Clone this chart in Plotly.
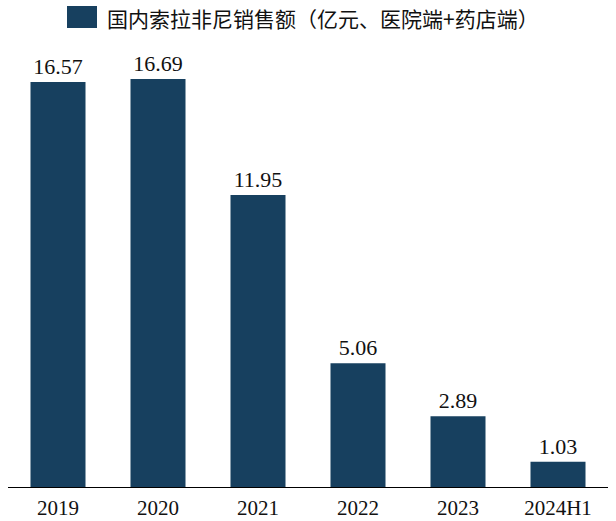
import plotly.graph_objects as go

categories = ["2019", "2020", "2021", "2022", "2023", "2024H1"]
sales = [16.57, 16.69, 11.95, 5.06, 2.89, 1.03]
value_labels = ["16.57", "16.69", "11.95", "5.06", "2.89", "1.03"]
legend_name = "国内索拉非尼销售额（亿元、医院端+药店端）"

bar_color = "#17405F"
serif = "Liberation Serif, Times New Roman, serif"
cjk = "Noto Sans CJK SC, sans-serif"

fig = go.Figure()
fig.add_trace(go.Bar(
    x=categories, y=sales, name=legend_name,
    marker=dict(color=bar_color, line=dict(width=0)),
    text=value_labels, textposition="outside", cliponaxis=False,
    textfont=dict(family=serif, size=22, color="#111111"),
    showlegend=False,
))

fig.update_layout(
    width=616, height=521,
    margin=dict(l=8, r=8, t=47, b=34),
    paper_bgcolor="white", plot_bgcolor="white",
    bargap=0.45,
    xaxis=dict(showline=True, linecolor="black", linewidth=1.2, ticks="",
               ticklabelstandoff=2, automargin=False,
               tickfont=dict(family=serif, size=21, color="#111111"),
               showgrid=False, zeroline=False),
    yaxis=dict(range=[0, 18], visible=False, showgrid=False, zeroline=False,
               automargin=False),
    shapes=[dict(type="rect", xref="paper", yref="paper",
                 x0=(67 - 8) / 600, x1=(97 - 8) / 600,
                 y0=(487 - 28) / 440, y1=(487 - 6) / 440,
                 fillcolor=bar_color, line=dict(width=0))],
    annotations=[dict(text=legend_name, xref="paper", yref="paper",
                      x=(105 - 8) / 600, y=(487 - 18) / 440,
                      xanchor="left", yanchor="middle", showarrow=False,
                      font=dict(family=cjk, size=21, color="#111111"))],
)

fig.write_html("out.html", config={"displayModeBar": False},
               post_script="document.body.style.margin='0px';")
